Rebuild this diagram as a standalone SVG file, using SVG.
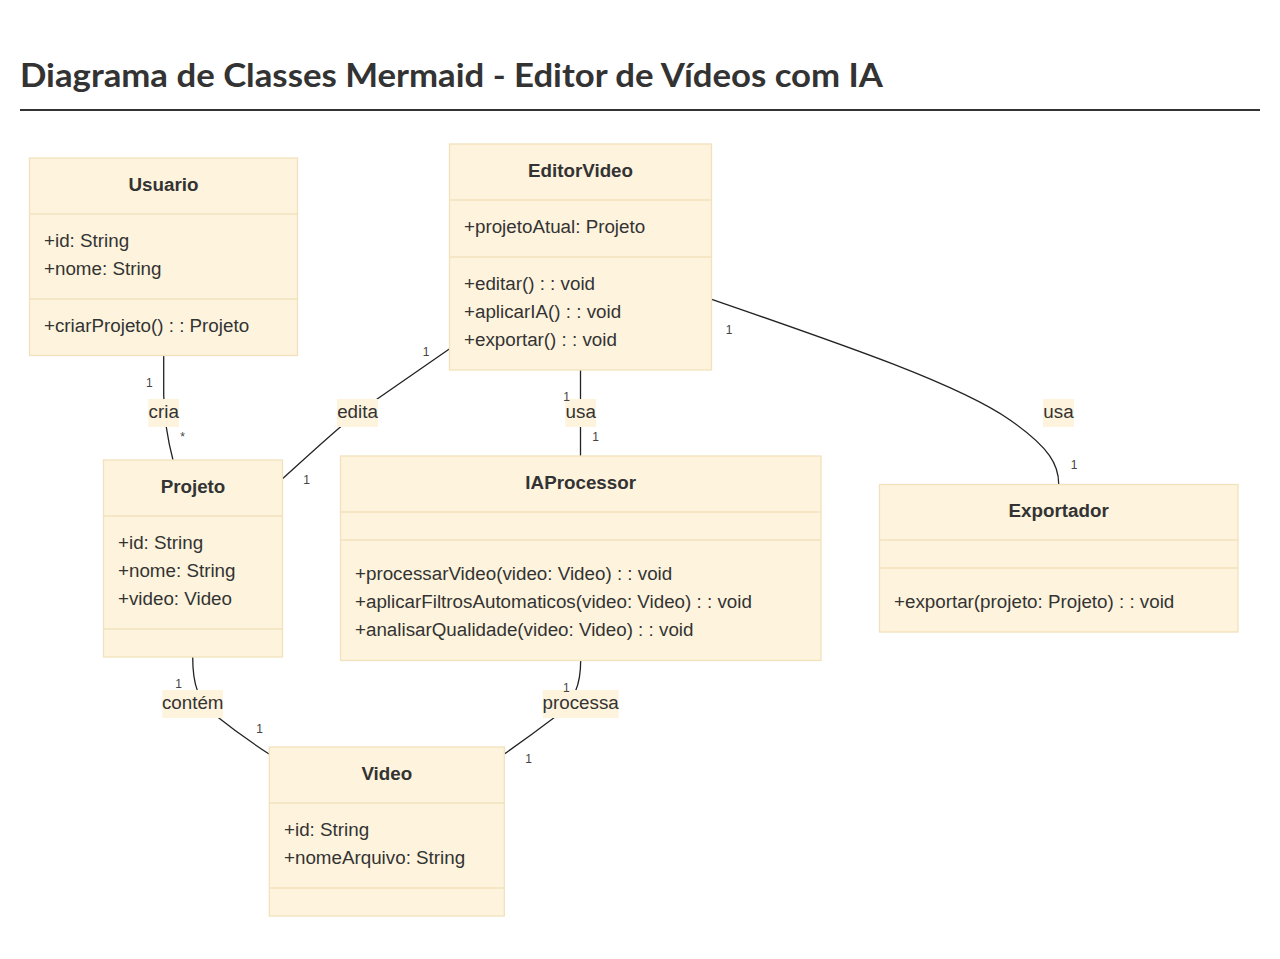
<svg xmlns="http://www.w3.org/2000/svg" width="1280" height="959" viewBox="0 0 1280 959">
<style>
.box{fill:#fef3dd;stroke:#f2e2bc;stroke-width:1.3}
.div{stroke:#f2e2bc;stroke-width:1.3}
.t{font-family:"Liberation Sans",Arial,sans-serif;font-size:18.8px;fill:#333}
.b{font-weight:bold;text-anchor:middle}
.lbl{font-family:"Liberation Sans",Arial,sans-serif;font-size:18.8px;fill:#333;text-anchor:middle}
.lbg{fill:#fef3dd}
.card{font-family:"Liberation Sans",Arial,sans-serif;font-size:12px;fill:#444;text-anchor:middle}
.edge{fill:none;stroke:#222;stroke-width:1.3}
</style>
<rect width="1280" height="959" fill="#fff"/>
<text x="20" y="87" font-family="Lato,'Open Sans',sans-serif" font-weight="bold" font-size="32" fill="#333" textLength="863" lengthAdjust="spacingAndGlyphs">Diagrama de Classes Mermaid - Editor de Vídeos com IA</text>
<line x1="20" y1="110" x2="1260" y2="110" stroke="#333" stroke-width="2"/>

<g id="edges">
<path class="edge" d="M163.7,355.5 L163.7,395 Q164.5,428 173,460"/>
<path class="edge" d="M449.3,349 C410,376 380,397 357,413 C330,435 300,463 282.3,479"/>
<path class="edge" d="M580.5,370 L580.5,456"/>
<path class="edge" d="M711.7,299.3 C850,347 960,385 1010,420 C1050,448 1058.7,465 1058.7,484"/>
<path class="edge" d="M192.7,657 C192.7,685 198,700 215,715 Q240,735 269,754"/>
<path class="edge" d="M580.7,660 C580.7,685 575,700 555,717 Q530,736 504.3,754"/>
</g>

<g id="edge-labels">
<rect class="lbg" x="148.3" y="399" width="30.7" height="28"/>
<text class="lbl" x="163.7" y="418">cria</text>
<rect class="lbg" x="337" y="399" width="41" height="28"/>
<text class="lbl" x="357.5" y="418">edita</text>
<rect class="lbg" x="565.3" y="399" width="30.7" height="28"/>
<text class="lbl" x="580.7" y="418">usa</text>
<rect class="lbg" x="1043" y="399" width="31" height="28"/>
<text class="lbl" x="1058.5" y="418">usa</text>
<rect class="lbg" x="162.3" y="690" width="60.7" height="28"/>
<text class="lbl" x="192.7" y="709">contém</text>
<rect class="lbg" x="542.7" y="690" width="76" height="28"/>
<text class="lbl" x="580.7" y="709">processa</text>
</g>

<g id="cardinalities">
<text class="card" x="149.3" y="386.5">1</text>
<text class="card" x="182.7" y="441">*</text>
<text class="card" x="426" y="356">1</text>
<text class="card" x="306.7" y="483.5">1</text>
<text class="card" x="566.5" y="401">1</text>
<text class="card" x="595.7" y="440.5">1</text>
<text class="card" x="729" y="333.5">1</text>
<text class="card" x="1074" y="468.5">1</text>
<text class="card" x="178.7" y="687.5">1</text>
<text class="card" x="259.7" y="732.5">1</text>
<text class="card" x="566.3" y="691.5">1</text>
<text class="card" x="528.7" y="762.5">1</text>
</g>

<g id="Usuario">
<rect class="box" x="29.5" y="158" width="268" height="197.5"/>
<line class="div" x1="29.5" y1="214" x2="297.5" y2="214"/>
<line class="div" x1="29.5" y1="299" x2="297.5" y2="299"/>
<text class="t b" x="163.5" y="190.5">Usuario</text>
<text class="t" x="44" y="247">+id: String</text>
<text class="t" x="44" y="275">+nome: String</text>
<text class="t" x="44" y="332">+criarProjeto() : : Projeto</text>
</g>

<g id="EditorVideo">
<rect class="box" x="449.5" y="144" width="262" height="226"/>
<line class="div" x1="449.5" y1="200" x2="711.5" y2="200"/>
<line class="div" x1="449.5" y1="257" x2="711.5" y2="257"/>
<text class="t b" x="580.5" y="176.5">EditorVideo</text>
<text class="t" x="464" y="233">+projetoAtual: Projeto</text>
<text class="t" x="464" y="290">+editar() : : void</text>
<text class="t" x="464" y="318">+aplicarIA() : : void</text>
<text class="t" x="464" y="346">+exportar() : : void</text>
</g>

<g id="Projeto">
<rect class="box" x="103.5" y="460" width="179" height="197"/>
<line class="div" x1="103.5" y1="516" x2="282.5" y2="516"/>
<line class="div" x1="103.5" y1="629" x2="282.5" y2="629"/>
<text class="t b" x="193" y="492.5">Projeto</text>
<text class="t" x="118" y="549">+id: String</text>
<text class="t" x="118" y="577">+nome: String</text>
<text class="t" x="118" y="605">+video: Video</text>
</g>

<g id="IAProcessor">
<rect class="box" x="340.5" y="456" width="480.5" height="204.5"/>
<line class="div" x1="340.5" y1="512" x2="821" y2="512"/>
<line class="div" x1="340.5" y1="540" x2="821" y2="540"/>
<text class="t b" x="580.7" y="488.5">IAProcessor</text>
<text class="t" x="355" y="580">+processarVideo(video: Video) : : void</text>
<text class="t" x="355" y="608">+aplicarFiltrosAutomaticos(video: Video) : : void</text>
<text class="t" x="355" y="636">+analisarQualidade(video: Video) : : void</text>
</g>

<g id="Exportador">
<rect class="box" x="879.5" y="484.5" width="358.5" height="147.5"/>
<line class="div" x1="879.5" y1="540" x2="1238" y2="540"/>
<line class="div" x1="879.5" y1="568" x2="1238" y2="568"/>
<text class="t b" x="1058.7" y="516.5">Exportador</text>
<text class="t" x="894" y="608">+exportar(projeto: Projeto) : : void</text>
</g>

<g id="Video">
<rect class="box" x="269.3" y="747" width="235" height="169"/>
<line class="div" x1="269.3" y1="803" x2="504.3" y2="803"/>
<line class="div" x1="269.3" y1="888" x2="504.3" y2="888"/>
<text class="t b" x="386.8" y="779.5">Video</text>
<text class="t" x="284" y="836">+id: String</text>
<text class="t" x="284" y="864">+nomeArquivo: String</text>
</g>
</svg>
